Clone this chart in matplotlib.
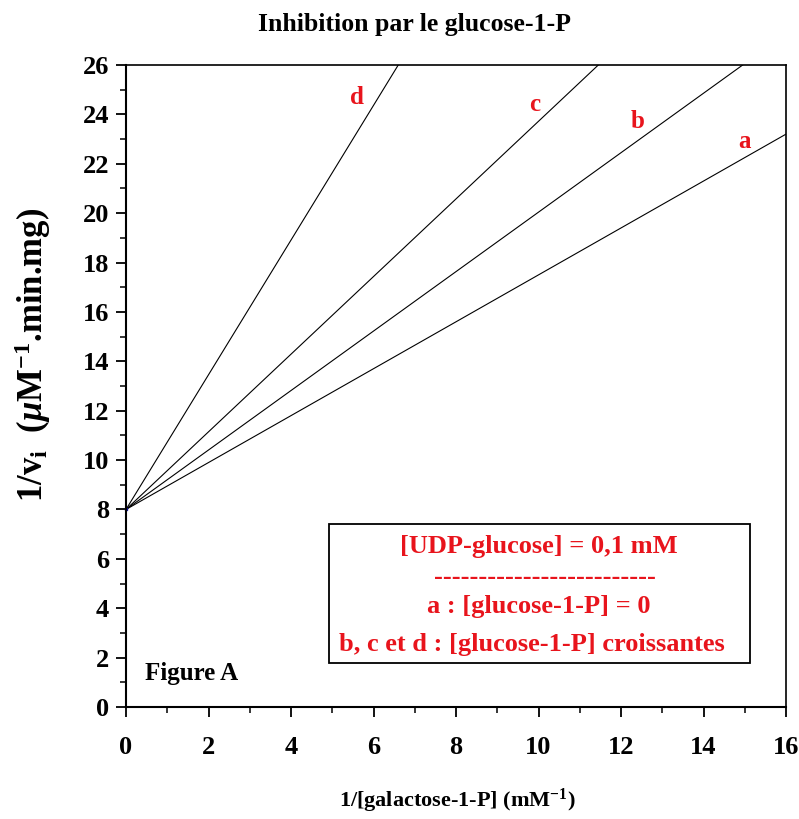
import matplotlib.pyplot as plt
import matplotlib.ticker as tkr

plt.rcParams['font.family'] = 'Liberation Serif'
plt.rcParams['font.weight'] = 'bold'
plt.rcParams['mathtext.fontset'] = 'custom'
plt.rcParams['mathtext.rm'] = 'Liberation Serif:bold'
plt.rcParams['mathtext.it'] = 'Liberation Serif:bold:italic'
plt.rcParams['mathtext.bf'] = 'Liberation Serif:bold'

# line endpoints (1/[S], 1/v)
line_names = ["a", "b", "c", "d"]
line_x = [[0, 16], [0, 14.95], [0, 11.45], [0, 6.6]]
line_y = [[8, 23.2], [8, 26], [8, 26], [8, 26]]
label_x = [15.0, 12.4, 9.9, 5.6]
label_y = [22.9, 23.7, 24.4, 24.7]

red = '#e8141c'

fig = plt.figure(figsize=(7.99, 8.19), dpi=100)
ax = fig.add_axes([126/799, 1-707/819, 660/799, 642/819])

for xs, ys in zip(line_x, line_y):
    ax.plot(xs, ys, color='black', lw=0.8)
ax.plot([0], [8], 's', color='#1010a0', ms=2, clip_on=False)

for n, lx, ly in zip(line_names, label_x, label_y):
    ax.text(lx, ly, n, color=red, fontsize=18, ha='center', va='center')

ax.set_xlim(0, 16)
ax.set_ylim(0, 26)
ax.xaxis.set_major_locator(tkr.MultipleLocator(2))
ax.xaxis.set_minor_locator(tkr.MultipleLocator(1))
ax.yaxis.set_major_locator(tkr.MultipleLocator(2))
ax.yaxis.set_minor_locator(tkr.MultipleLocator(1))
ax.tick_params(which='major', direction='out', length=7, width=1.3, labelsize=19)
ax.tick_params(which='minor', direction='out', length=4, width=1.1)
ax.tick_params(axis='x', which='major', pad=14)
ax.tick_params(axis='y', which='major', pad=5)
for s in ax.spines.values():
    s.set_linewidth(1.2)
ax.spines['left'].set_linewidth(1.5)
ax.spines['bottom'].set_linewidth(1.5)

fig.text(414/799, 1-25/819, 'Inhibition par le glucose-1-P', fontsize=18.5,
         ha='center', va='center')
fig.text(457/799, 1-801/819, r'1/[galactose-1-P] (mM$^{-1}$)', fontsize=16,
         ha='center', va='center')
fig.text(33/799, 1-355/819, r'1/v$_\mathrm{i}$  ($\mathit{\mu}$M$^{-1}$.min.mg)',
         fontsize=25, rotation=90, ha='center', va='center')

ax.text(0.45, 1.35, 'Figure A', fontsize=18, ha='left', va='center')

box = plt.Rectangle((4.92, 1.8), 10.2, 5.6, fill=False, lw=1.3, ec='black')
ax.add_patch(box)
ax.text(10.0, 6.5, '[UDP-glucose] = 0,1 mM', color=red, fontsize=19, ha='center', va='center')
ax.text(10.15, 5.25, '-' * 25, color=red, fontsize=19, ha='center', va='center')
ax.text(10.0, 4.05, 'a : [glucose-1-P] = 0', color=red, fontsize=19, ha='center', va='center')
ax.text(9.85, 2.55, 'b, c et d : [glucose-1-P] croissantes', color=red, fontsize=19,
        ha='center', va='center')

fig.savefig('out.png', dpi=100)
